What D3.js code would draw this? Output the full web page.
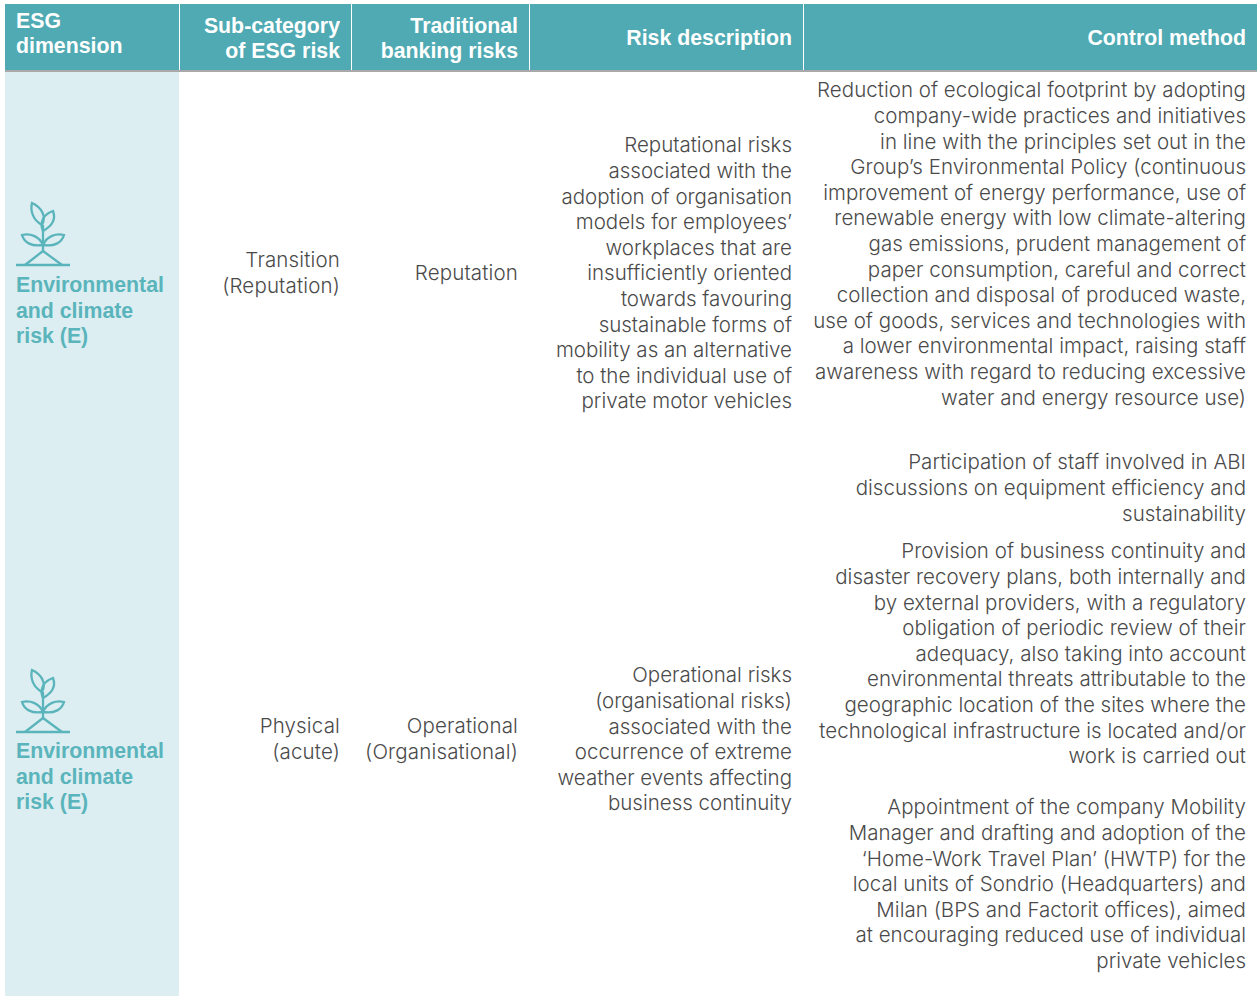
<!DOCTYPE html>
<html>
<head>
<meta charset="utf-8">
<script src="https://cdn.jsdelivr.net/npm/d3@7"></script>
<style>
html,body{margin:0;padding:0;background:#fff}
svg{display:block}
text{font-family:"Liberation Sans",Arial,sans-serif}
text.body{font-family:Inter,"Liberation Sans",sans-serif;font-weight:300}
</style>
</head>
<body>
<svg></svg>
<script>
var headers=[["ESG","dimension"],["Sub-category","of ESG risk"],["Traditional","banking risks"],["Risk description"],["Control method"]];
var esgLabel=["Environmental","and climate","risk (E)"];

var subCategory1=["Transition","(Reputation)"];
var subCategory2=["Physical","(acute)"];
var traditional1=["Reputation"];
var traditional2=["Operational","(Organisational)"];

var riskDescription1=["Reputational risks","associated with the","adoption of organisation","models for employees’","workplaces that are","insufficiently oriented","towards favouring","sustainable forms of","mobility as an alternative","to the individual use of","private motor vehicles"];
var riskDescription2=["Operational risks","(organisational risks)","associated with the","occurrence of extreme","weather events affecting","business continuity"];

var control1=["Reduction of ecological footprint by adopting","company-wide practices and initiatives","in line with the principles set out in the","Group’s Environmental Policy (continuous","improvement of energy performance, use of","renewable energy with low climate-altering","gas emissions, prudent management of","paper consumption, careful and correct","collection and disposal of produced waste,","use of goods, services and technologies with","a lower environmental impact, raising staff","awareness with regard to reducing excessive","water and energy resource use)"];
var control2=["Participation of staff involved in ABI","discussions on equipment efficiency and","sustainability"];
var control3=["Provision of business continuity and","disaster recovery plans, both internally and","by external providers, with a regulatory","obligation of periodic review of their","adequacy, also taking into account","environmental threats attributable to the","geographic location of the sites where the","technological infrastructure is located and/or","work is carried out"];
var control4=["Appointment of the company Mobility","Manager and drafting and adoption of the","‘Home-Work Travel Plan’ (HWTP) for the","local units of Sondrio (Headquarters) and","Milan (BPS and Factorit offices), aimed","at encouraging reduced use of individual","private vehicles"];

var svgWidth=1257, svgHeight=997, lineHeight=25.6;
var teal="#4faab3", pale="#dceef1", green="#5ab4bb", ink="#4a4a4a";

var svg=d3.select("svg").attr("width",svgWidth).attr("height",svgHeight);

// column edges, the header dividers sit on the inner ones
var colLeft=[5,180,352,530,804];
var colRight=[179,351,529,803,1257];
var textRight=[0,340,518,792,1246];

svg.append("rect").attr("x",5).attr("y",72).attr("width",174).attr("height",924).attr("fill",pale);

svg.selectAll("rect.head")
    .data(colLeft)
    .enter()
    .append("rect")
    .attr("class","head")
    .attr("x",function(d){return d;})
    .attr("y",4)
    .attr("width",function(d,i){return colRight[i]-d;})
    .attr("height",66)
    .attr("fill",teal);
svg.append("rect").attr("x",5).attr("y",70).attr("width",1252).attr("height",2).attr("fill","#a9a9a9");

// draws a block of lines, y is the middle of the first line
function block(lines,x,y,opts){
    opts=opts||{};
    var lh=opts.lh||lineHeight;
    svg.append("g").selectAll("text")
        .data(lines)
        .enter()
        .append("text")
        .attr("class",opts.cls||"body")
        .attr("x",x)
        .attr("y",function(d,i){return y+i*lh+7.4;})
        .attr("text-anchor",opts.anchor||"end")
        .attr("font-size",opts.size||20.5)
        .attr("letter-spacing",opts.spacing||0)
        .attr("font-weight",opts.weight||null)
        .attr("fill",opts.fill||ink)
        .text(function(d){return d;});
}

var headOpts={cls:"head",size:21.3,weight:"bold",fill:"#fff",lh:25};
var labelOpts={cls:"head",size:21.3,weight:"bold",fill:green,lh:25.5,anchor:"start"};
var sparse={spacing:0.16};
block(headers[0],16,21,{cls:"head",size:21.3,weight:"bold",fill:"#fff",lh:25,anchor:"start"});
block(headers[1],textRight[1],26,headOpts);
block(headers[2],textRight[2],26,headOpts);
block(headers[3],textRight[3],38,headOpts);
block(headers[4],textRight[4],38,headOpts);

block(subCategory1,textRight[1],260,sparse);
block(subCategory2,textRight[1],726,sparse);
block(traditional1,textRight[2],273,sparse);
block(traditional2,textRight[2],726,sparse);
block(riskDescription1,textRight[3],145);
block(riskDescription2,textRight[3],675);
block(control1,textRight[4],90,{spacing:0.03});
block(control2,textRight[4],462,{spacing:0.03});
block(control3,textRight[4],551,{spacing:0.03});
block(control4,textRight[4],807,{spacing:0.03});

function plant(top){
    var g=svg.append("g")
        .attr("transform","translate(16,"+top+")")
        .attr("fill","none")
        .attr("stroke",green)
        .attr("stroke-width",2.3);
    g.append("path").attr("d","M0,63H54");
    g.append("path").attr("d","M9,63L27,49L46,63");
    g.append("path").attr("d","M27,49V23");
    // upper leaves
    g.append("path").attr("d","M26,23C17,18 14,9 16,1C25,5 31,14 26,23Z");
    g.append("path").attr("d","M27,29C23,20 28,12 37,9C40,17 36,24 27,29Z");
    // lower leaves
    g.append("path").attr("d","M27,43C15,45 8,40 6,33C14,31 23,34 27,43Z");
    g.append("path").attr("d","M27,43C39,45 46,40 48,33C40,31 31,34 27,43Z");
}
plant(202);
plant(669);

block(esgLabel,16,285,labelOpts);
block(esgLabel,16,751,labelOpts);
</script>
</body>
</html>
